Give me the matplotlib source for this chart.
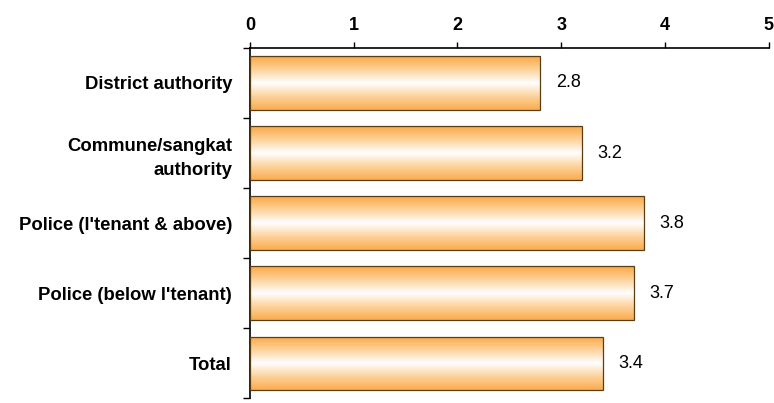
import numpy as np
import matplotlib
matplotlib.use('Agg')
import matplotlib.pyplot as plt
from matplotlib.colors import LinearSegmentedColormap

# Chart data
categories = ['District authority', 'Commune/sangkat\nauthority', "Police (l'tenant & above)",
              "Police (below l'tenant)", 'Total']
values = [2.8, 3.2, 3.8, 3.7, 3.4]
xticks = [0, 1, 2, 3, 4, 5]

plt.rcParams['font.family'] = ['Liberation Sans', 'DejaVu Sans']

fig = plt.figure(figsize=(7.74, 4.03), dpi=100)
ax = fig.add_axes([0.323, 0.012, 0.670, 0.869])

ypos = np.arange(len(categories))
bars = ax.barh(ypos, values, height=0.76, color='none', edgecolor='#5a3d14', linewidth=0.9, zorder=3)

# vertical gradient orange -> white -> orange inside each bar
cmap = LinearSegmentedColormap.from_list('og', ['#fba846', '#fdd29a', '#ffffff', '#fdd29a', '#fbab4c'])
grad = np.linspace(0, 1, 256).reshape(-1, 1)
for b in bars:
    x0, y0 = b.get_x(), b.get_y()
    w, h = b.get_width(), b.get_height()
    im = ax.imshow(grad, cmap=cmap, aspect='auto', extent=[x0, x0 + w, y0 + h, y0],
                   origin='upper', zorder=2)
    im.set_clip_path(b)

for y, v in zip(ypos, values):
    ax.text(v + 0.15, y, f'{v:.1f}', va='center', ha='left', fontsize=13)

ax.set_xlim(0, 5)
ax.set_ylim(len(categories) - 0.5, -0.5)
ax.xaxis.tick_top()
ax.set_xticks(xticks)
ax.set_xticklabels([str(t) for t in xticks], fontsize=13, fontweight='bold')
ax.tick_params(axis='x', direction='out', length=4, width=1, pad=6)

ax.set_yticks(ypos)
ax.set_yticklabels(categories, fontsize=13.3, fontweight='bold', ha='right', linespacing=1.55)
ax.tick_params(axis='y', length=0, pad=13)
ax.set_yticks(np.arange(-0.5, len(categories), 1), minor=True)
ax.tick_params(axis='y', which='minor', direction='out', length=5, width=1)

for s in ['right', 'bottom']:
    ax.spines[s].set_visible(False)
ax.spines['top'].set_linewidth(1.2)
ax.spines['left'].set_linewidth(1.2)

fig.savefig('out.png', dpi=100)
